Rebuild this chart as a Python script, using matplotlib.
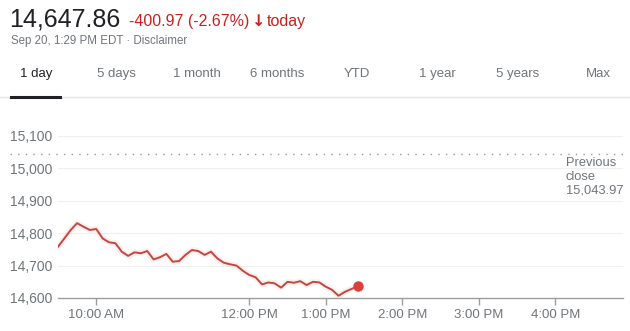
import matplotlib
matplotlib.use("Agg")
import matplotlib.pyplot as plt
import pandas as pd

# ---------------------------------------------------------------------------
# Dados
# ---------------------------------------------------------------------------
last_price = "14,647.86"
change_text = "-400.97 (-2.67%)"
timestamp_text = "Sep 20, 1:29 PM EDT \u00b7 Disclaimer"
tabs = ["1 day", "5 days", "1 month", "6 months", "YTD", "1 year", "5 years", "Max"]

prev_close = 15043.97
prev_close_label = "Previous\nclose\n15,043.97"

# 5 em 5 minutos a partir da abertura, ultimo ponto avulso
start_time = "09:30"
last_time = "13:25"
prices = [14758, 14784, 14810, 14831, 14820, 14810, 14813, 14784, 14772, 14769,
          14743, 14730, 14741, 14738, 14745, 14719, 14726, 14736, 14712, 14714,
          14733, 14748, 14745, 14733, 14743, 14722, 14709, 14704, 14700, 14684,
          14671, 14664, 14642, 14648, 14645, 14632, 14650, 14647, 14652, 14640,
          14650, 14648, 14635, 14625, 14607, 14619, 14636]

y_ticks = [14600, 14700, 14800, 14900, 15000, 15100]
x_ticks = [10, 12, 13, 14, 15, 16]
x_tick_labels = ["10:00 AM", "12:00 PM", "1:00 PM", "2:00 PM", "3:00 PM", "4:00 PM"]

RED = "#c5221f"
LINE = "#c4463f"
GRAY = "#70757a"
DARK = "#202124"

plt.rcParams["font.family"] = ["Liberation Sans", "DejaVu Sans"]

W, H = 630, 331


def fx(px):
    return px / W


def fy(py):
    return 1 - py / H


def to_hours(t):
    return t.hour + t.minute / 60


times = list(pd.date_range("2021-09-20 " + start_time, periods=len(prices) - 1, freq="5min"))
times.append(pd.Timestamp("2021-09-20 " + last_time))
hours = [to_hours(t) for t in times]

fig = plt.figure(figsize=(W / 100, H / 100), dpi=100)

# ---------------------------------------------------------------------------
# Cabecalho
# ---------------------------------------------------------------------------
fig.text(fx(9), fy(27), last_price, fontsize=18, color=DARK, va="baseline")
fig.text(fx(129), fy(26), change_text, fontsize=11.5, color=RED, va="baseline")
fig.text(fx(252), fy(26), "\u2193", fontsize=11.5, color=RED, va="baseline",
         family="DejaVu Sans", fontweight="bold")
fig.text(fx(267), fy(26), "today", fontsize=11.5, color=RED, va="baseline")
fig.text(fx(11), fy(44), timestamp_text, fontsize=8.3, color=GRAY, va="baseline")

tab_x = [36 + 80.3 * i for i in range(len(tabs))]
for i, (lab, x) in enumerate(zip(tabs, tab_x)):
    fig.text(fx(x), fy(74), lab, fontsize=9.5, ha="center", va="center",
             color=DARK if i == 0 else GRAY)
fig.add_artist(plt.Line2D([0, 1], [fy(97.5), fy(97.5)], color="#e4e4e4", lw=1))
fig.add_artist(plt.Line2D([fx(11), fx(60)], [fy(97.5), fy(97.5)], color=DARK, lw=2.2))

# ---------------------------------------------------------------------------
# Grafico
# ---------------------------------------------------------------------------
ax_left, ax_right, ax_top, ax_bottom = 58, 623, 136, 298
ax = fig.add_axes([fx(ax_left), fy(ax_bottom), (ax_right - ax_left) / W,
                   (ax_bottom - ax_top) / H])
ax.set_xlim(9.5, 9.5 + (ax_right - ax_left) / 76.5)
ax.set_ylim(y_ticks[0], y_ticks[-1])

for v in y_ticks[1:]:
    ax.axhline(v, color="#f0f0f0", lw=0.8, zorder=0)

# linha de fechamento anterior (pontilhada), estende ate a esquerda
px_per_val = (ax_bottom - ax_top) / (y_ticks[-1] - y_ticks[0])
pc_y = ax_bottom - (prev_close - y_ticks[0]) * px_per_val
fig.add_artist(plt.Line2D([fx(10), fx(ax_right)], [fy(pc_y), fy(pc_y)],
                          color="#9a9a9a", lw=1, linestyle=(0, (1, 4.5))))
fig.text(fx(566), fy(157), prev_close_label, fontsize=9.3, color=GRAY,
         va="top", linespacing=1.2)

ax.plot(hours, prices, color=LINE, lw=4.5, alpha=0.08, solid_capstyle="round", zorder=2)
ax.plot(hours, prices, color=LINE, lw=1.4, zorder=3)
ax.plot(hours[-1], prices[-1], "o", color="#d9403a", ms=6.5, zorder=4, clip_on=False)

for s in ["top", "right", "left"]:
    ax.spines[s].set_visible(False)
ax.spines["bottom"].set_color("#9e9e9e")
ax.spines["bottom"].set_linewidth(1)

ax.set_yticks(y_ticks)
ax.set_yticklabels([f"{v:,}" for v in y_ticks], fontsize=10, color=GRAY)
ax.tick_params(axis="y", length=0, pad=4)
ax.set_xticks(x_ticks)
ax.set_xticklabels(x_tick_labels, fontsize=9.5, color=GRAY)
ax.tick_params(axis="x", length=5, width=1, color="#9e9e9e", pad=3)

fig.savefig("out.png", dpi=100)
